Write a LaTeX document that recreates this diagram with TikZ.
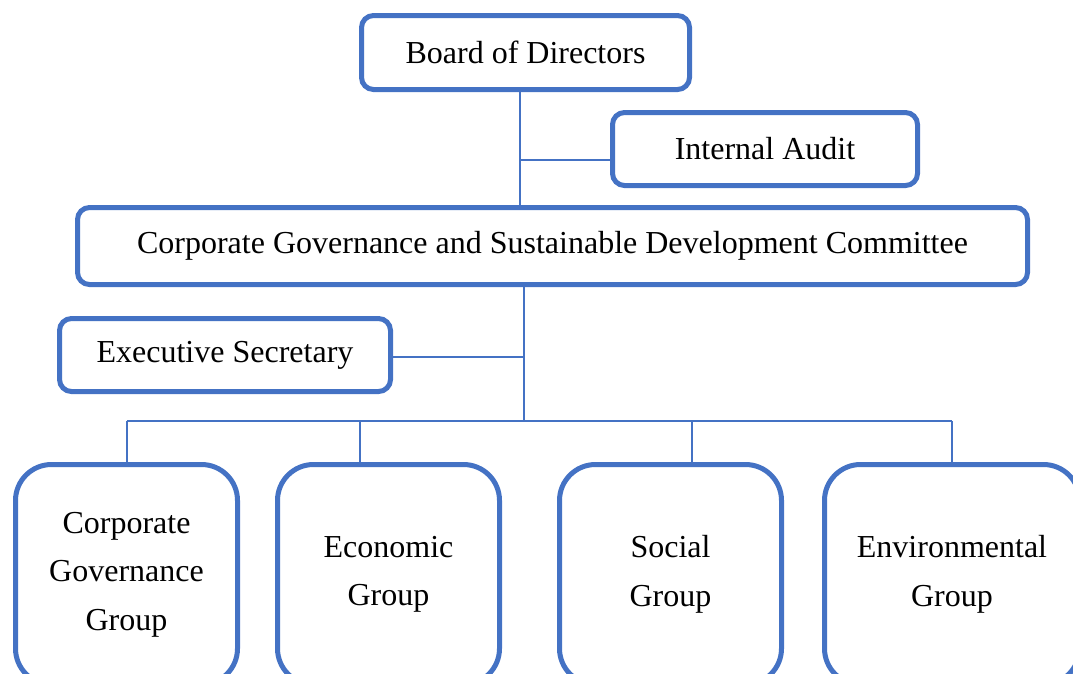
\documentclass[tikz,border=0pt]{standalone}
\usepackage{fontspec}
\setmainfont{Liberation Serif}
\usepackage{tikz}
\usetikzlibrary{positioning}
\definecolor{orgblue}{RGB}{68,114,196}
\tikzstyle{unit}=[rectangle, rounded corners=12pt, draw=orgblue, line width=5pt, fill=white, inner sep=0pt, font=\fontsize{32}{48.5}\selectfont]
\tikzstyle{group}=[unit, rounded corners=36pt, minimum width=222pt, minimum height=220pt, align=center]
\tikzstyle{link}=[draw=orgblue, line width=2pt]

\begin{document}
\begin{tikzpicture}[x=1pt, y=-1pt]
    \useasboundingbox (0,0) rectangle (1073,673);

    \node[unit, minimum width=328pt, minimum height=74pt] (board) at (525.5,52.5) {Board of Directors};
    \node[unit, minimum width=305pt, minimum height=73pt] (audit) at (765,149) {Internal Audit};
    \node[unit, minimum width=950pt, minimum height=77pt] (cgsd) at (552.5,246) {Corporate Governance and Sustainable Development Committee};
    \node[unit, minimum width=331pt, minimum height=73pt] (exec) at (225,355) {Executive Secretary};

    \node[group] (gov) at (126.5,574.5) {Corporate\\Governance\\Group};
    \node[group] (eco) at (388.5,574.5) {Economic\\Group};
    \node[group] (soc) at (670.5,574.5) {Social\\Group};
    \node[group, minimum width=255pt] (env) at (952,574.5) {Environmental\\Group};

    % trunk lines
    \coordinate (top) at (520,160);
    \coordinate (mid) at (524,357);
    \coordinate (busL) at (127,421);
    \coordinate (busR) at (952,421);
    \draw[link] (board.south -| top) -- (cgsd.north -| top);
    \draw[link] (top) -- (audit.west |- top);
    \draw[link] (cgsd.south -| mid) -- (mid |- busL);
    \draw[link] (exec.east |- mid) -- (mid);
    \draw[link] (busL) -- (busR);

    % drops to the groups
    \coordinate (d1) at (127,421);
    \coordinate (d2) at (360,421);
    \coordinate (d3) at (692,421);
    \coordinate (d4) at (952,421);
    \draw[link] (d1) -- (d1 |- gov.north);
    \draw[link] (d2) -- (d2 |- eco.north);
    \draw[link] (d3) -- (d3 |- soc.north);
    \draw[link] (d4) -- (d4 |- env.north);
\end{tikzpicture}
\end{document}
